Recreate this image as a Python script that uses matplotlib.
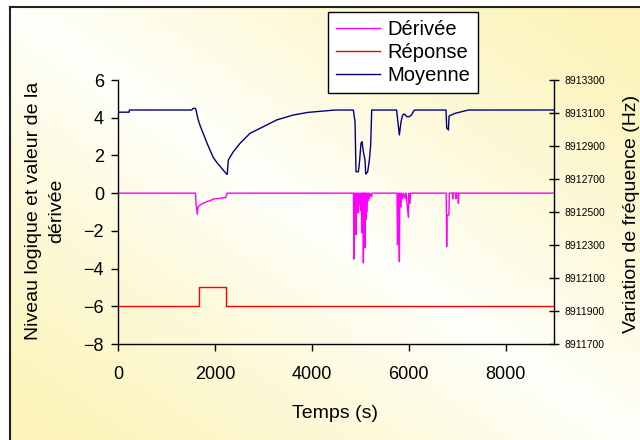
import numpy as np
import matplotlib
matplotlib.use("Agg")
import matplotlib.pyplot as plt
from matplotlib.ticker import FixedLocator, FuncFormatter

plt.rcParams['font.family'] = ['Liberation Sans', 'DejaVu Sans']

# ---------------- data ----------------
# Réponse (logic level, left axis)
rep_t = [0, 1680, 1680, 2225, 2225, 9000]
rep_v = [-6, -6, -5, -5, -6, -6]

# Dérivée (left axis)
der_t = [0, 1600, 1610, 1638, 1650, 1693, 1750, 1831, 1900, 1967, 2100, 2174, 2222, 2240, 2250,
         4860, 4870, 4880, 4890, 4900, 4913, 4922, 4935, 4945, 4961, 4970, 4985, 4995, 5010, 5020,
         5030, 5040, 5050, 5058, 5065, 5072, 5080, 5090, 5099, 5108, 5120, 5127, 5134, 5145, 5160,
         5170, 5189, 5200, 5237, 5245,
         5760, 5767, 5790, 5808, 5818, 5842, 5852, 5880, 5890, 5935, 5945, 5994, 6004, 6028, 6038,
         6775, 6785, 6792, 6800, 6830, 6840, 6905, 6910, 6915, 6970, 6978, 6986, 7020, 7026, 7034, 9000]
der_v = [0, 0, -0.54, -1.12, -0.75, -0.63, -0.55, -0.45, -0.40, -0.31, -0.28, -0.24, -0.24, -0.10, 0,
         0, -3.5, 0, -0.8, 0, -2.2, 0, -1.0, 0, -1.05, 0, -0.6, 0, -0.9, 0,
         -2.1, 0, -1.5, 0, -3.7, 0, -1.8, 0, -2.9, 0, -1.4, 0, -1.0, 0, -0.4,
         0, -0.28, 0, -0.19, 0,
         0, -2.75, 0, -3.63, 0, -0.73, 0, -0.3, 0, -0.28, 0, -1.29, 0, -0.54, 0,
         0, -2.84, -1.16, -1.16, -1.16, 0, 0, -0.3, 0, 0, -0.3, 0, 0, -0.54, 0, 0]

# Moyenne (frequency, right axis, Hz)
moy_t = [0, 230, 235, 1520, 1550, 1600, 1615, 1650, 1693, 1760, 1831, 1900, 1967, 2040, 2106,
         2170, 2244, 2256, 2277, 2380,
         2519, 2725, 3000, 3276, 3619, 3929, 4480, 4858, 4893, 4913, 4961, 4980, 5016, 5037,
         5065, 5099, 5113, 5154, 5189, 5216, 5237, 5751, 5780, 5808, 5842, 5876, 5910, 5960,
         6014, 6056, 6118, 6771, 6785, 6820, 6834, 6957, 7095, 7232, 9000]
moy_hz = [8913105, 8913105, 8913118, 8913118, 8913128, 8913128, 8913112, 8913065, 8913025,
          8912975, 8912922, 8912875, 8912830, 8912800, 8912777, 8912755, 8912729, 8912729,
          8912815, 8912865, 8912916, 8912977, 8913017,
          8913058, 8913088, 8913104, 8913118, 8913118, 8913047, 8912744, 8912744, 8912785,
          8912916, 8912926, 8912865, 8912815, 8912730, 8912744, 8912815, 8912906, 8913118,
          8913118, 8913040, 8912967, 8913047, 8913088, 8913094, 8913078, 8913078, 8913088,
          8913118, 8913118, 8913010, 8912997, 8913082, 8913098, 8913108, 8913118, 8913118]

x_ticks = [0, 2000, 4000, 6000, 8000]
y_ticks = [-8, -6, -4, -2, 0, 2, 4, 6]
hz_ticks = [8911700, 8911900, 8912100, 8912300, 8912500, 8912700, 8912900, 8913100, 8913300]

# ---------------- figure ----------------
W, H = 640, 440
fig = plt.figure(figsize=(W / 100, H / 100), dpi=100)
fig.patch.set_facecolor('white')

# background gradient panel with frame
bg = fig.add_axes([10 / W, -0.02, 1.0, (H - 7) / H + 0.02])
bg.set_zorder(-10)
nx, ny = 320, 220
u = np.linspace(0, 1, nx)[None, :]
v = np.linspace(0, 1, ny)[:, None]
d = np.clip(np.abs(u - v) * 1.1, 0, 1) ** 0.9
white = np.array([1.0, 1.0, 0.985])
yellow = np.array([0.985, 0.955, 0.72])
img = white[None, None, :] * (1 - d[..., None]) + yellow[None, None, :] * d[..., None]
bg.imshow(img, aspect='auto', extent=[0, 1, 0, 1], origin='upper')
bg.set_xlim(0, 1)
bg.set_ylim(0, 1)
bg.set_xticks([])
bg.set_yticks([])
for s in ['right', 'bottom']:
    bg.spines[s].set_visible(False)
for s in ['left', 'top']:
    bg.spines[s].set_linewidth(1.5)
    bg.spines[s].set_color('#222222')

ax = fig.add_axes([118 / W, 1 - 344 / H, (554 - 118) / W, (344 - 80) / H])
ax.patch.set_alpha(0)
ax2 = ax.twinx()
ax2.patch.set_alpha(0)

l1, = ax.plot(der_t, der_v, color='#FF00FF', lw=1.0, label='Dérivée')
l2, = ax.plot(rep_t, rep_v, color='#FF0000', lw=1.0, label='Réponse')
l3, = ax2.plot(moy_t, moy_hz, color='#000080', lw=1.0, label='Moyenne')

ax.set_xlim(0, 9000)
ax.set_ylim(-8, 6)
ax2.set_ylim(8911700, 8913300)
ax.set_xticks(x_ticks)
ax.set_yticks(y_ticks)
ax2.yaxis.set_major_locator(FixedLocator(hz_ticks))
ax2.yaxis.set_major_formatter(FuncFormatter(lambda val, pos: f"{int(round(val))}"))

for a in (ax, ax2):
    a.spines['top'].set_visible(False)
ax.spines['right'].set_visible(False)
ax2.spines['left'].set_visible(False)
ax2.spines['bottom'].set_visible(False)
for a in (ax, ax2):
    for s in a.spines.values():
        s.set_color('black')
        s.set_linewidth(1.0)

ax.tick_params(axis='y', direction='out', length=5, width=1, labelsize=13, pad=5)
ax.tick_params(axis='x', direction='out', length=5, width=1, labelsize=13, pad=11)
ax2.tick_params(axis='y', direction='inout', length=7, width=1, labelsize=7.5, pad=4)

fig.text(45 / W, 1 - 211 / H, 'Niveau logique et valeur de la\ndérivée', rotation=90,
         ha='center', va='center', multialignment='center', fontsize=14, linespacing=1.5)
fig.text(631 / W, 1 - 214 / H, 'Variation de fréquence (Hz)', rotation=90,
         ha='center', va='center', fontsize=14)
fig.text(335 / W, 1 - 413 / H, 'Temps (s)', ha='center', va='center', fontsize=14)

leg = fig.legend(handles=[l1, l2, l3], loc='upper left', bbox_to_anchor=(328 / W, 1 - 12 / H),
                 fontsize=14.5, frameon=True, fancybox=False, edgecolor='black',
                 framealpha=1, handlelength=2.2, handletextpad=0.35, borderpad=0.4,
                 labelspacing=0.2, borderaxespad=0)
leg.get_frame().set_linewidth(1.0)

fig.savefig('out.png', dpi=100)
